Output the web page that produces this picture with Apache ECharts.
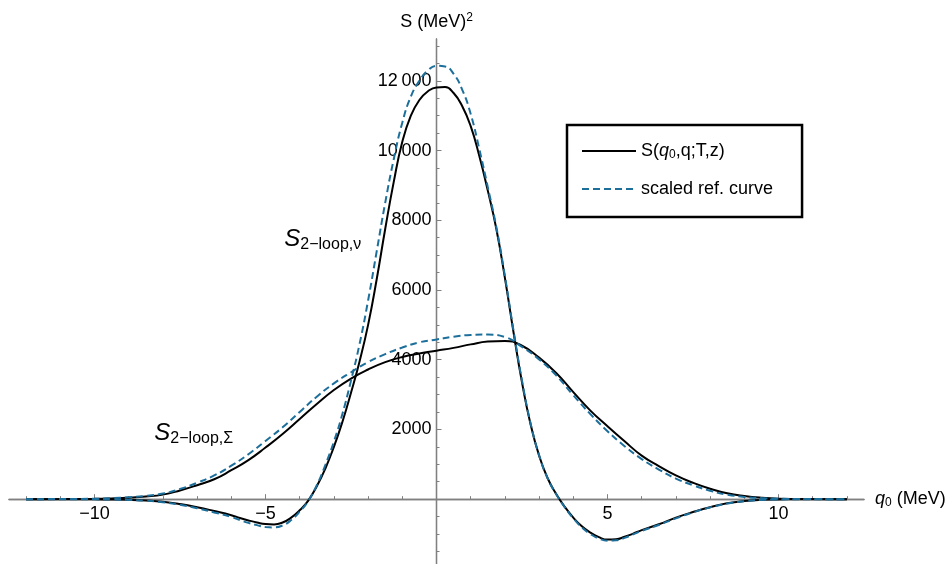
<!DOCTYPE html>
<html>
<head>
<meta charset="utf-8">
<script src="https://cdn.jsdelivr.net/npm/echarts@6/dist/echarts.min.js"></script>
<style>
html, body { margin: 0; padding: 0; background: #fff; }
#main { width: 951px; height: 564px; }
</style>
</head>
<body>
<div id="main"></div>
<script>
// q0 grid for the narrow (nu) curves
var qNu = [-12, -11, -10, -9.5, -9, -8.5, -8, -7.5, -7, -6.5,
  -6, -5.75, -5.5, -5.25, -5, -4.75, -4.5, -4.25, -4, -3.75,
  -3.5, -3.25, -3, -2.75, -2.5, -2.25, -2, -1.75, -1.5, -1.25,
  -1, -0.75, -0.5, -0.25, 0, 0.25, 0.5, 0.75, 1, 1.25,
  1.5, 1.75, 2, 2.25, 2.5, 2.75, 3, 3.25, 3.5, 3.75,
  4, 4.25, 4.5, 4.75, 5, 5.25, 5.5, 5.75, 6,
  6.5, 7, 7.5, 8, 8.5, 9, 9.5, 10, 11, 12];
// S_2-loop,nu : full result (solid) and scaled reference (dashed)
var nuFull = [0, 0, -5, -10, -20, -40, -75, -140, -230, -340,
  -460, -540, -610, -670, -715, -725, -670, -530, -320, -40,
  370, 880, 1500, 2220, 3050, 3950, 5000, 6300, 7750, 9100,
  10250, 11000, 11450, 11700, 11810, 11820, 11650, 11280, 10700, 9850,
  8850, 7750, 6350, 4800, 3350, 2150, 1250, 600, 150, -220,
  -530, -780, -960, -1090, -1160, -1150, -1080, -990, -890,
  -720, -530, -370, -230, -120, -55, -20, -8, 0, 0];
var nuRef = [0, 0, -5, -12, -22, -45, -90, -160, -260, -380,
  -510, -600, -680, -745, -800, -810, -755, -600, -360, -50,
  400, 980, 1650, 2450, 3400, 4450, 5700, 7100, 8500, 9750,
  10800, 11550, 12000, 12300, 12430, 12410, 12200, 11750, 11050, 10050,
  8950, 7800, 6400, 4850, 3400, 2180, 1260, 600, 140, -230,
  -550, -810, -1000, -1130, -1190, -1180, -1110, -1010, -910,
  -740, -550, -380, -235, -125, -58, -22, -8, 0, 0];

// q0 grid for the broad (Sigma) curves
var qSig = [-12, -11, -10, -9.5, -9, -8.5, -8, -7.5, -7, -6.5, -6, -5.5, -5, -4.5, -4, -3.5, -3,
  -2.5, -2, -1.5, -1, -0.5, 0, 0.5, 1, 1.5, 2, 2.5, 3, 3.5, 4, 4.5, 5, 5.5, 6, 6.5, 7, 7.5,
  8, 8.5, 9, 9.5, 10, 11, 12];
var sigFull = [0, 2, 10, 22, 42, 75, 130, 250, 400, 570, 830, 1120, 1480, 1870, 2300, 2730, 3130,
  3460, 3720, 3930, 4080, 4180, 4260, 4340, 4440, 4520, 4540, 4400, 4060, 3620, 3070, 2540, 2090, 1660,
  1250, 950, 680, 470, 300, 170, 90, 40, 15, 3, 0];
var sigRef = [0, 3, 12, 28, 55, 95, 160, 290, 470, 680, 960, 1290, 1670, 2060, 2500, 2940, 3320,
  3640, 3930, 4160, 4350, 4500, 4580, 4660, 4710, 4720, 4650, 4370, 4010, 3550, 2980, 2440, 1950, 1520,
  1150, 850, 590, 400, 240, 130, 65, 30, 12, 2, 0];

// ticks
var xMajor = [-10, -5, 5, 10];
var xLabels = [-10, -5, 5, 10];
var xMinor = [-12, -11, -9, -8, -7, -6, -4, -3, -2, -1, 1, 2, 3, 4, 6, 7, 8, 9, 11, 12];
var yMajor = [2000, 4000, 6000, 8000, 10000, 12000];
var yLabels = [2000, 4000, 6000, 8000, 10000, 12000];
var yMinor = [-1500, -1000, -500, 500, 1000, 1500, 2500, 3000, 3500, 4500, 5000, 5500,
  6500, 7000, 7500, 8500, 9000, 9500, 10500, 11000, 11500, 12500, 13000];

// curve labels, anchored in data coordinates
var notes = [
  { q: -4.45, s: 7460, text: '{s|S}{sub|2\u2212loop,\u03bd}' },
  { q: -8.25, s: 1880, text: '{s|S}{sub|2\u2212loop,\u03a3}' }
];

var FONT = 'Liberation Sans, Arial, sans-serif';
var AXIS = '#808080';
var BLUE = '#1d6f9b';
var NAME_FULL = 'S(q0,q;T,z)';
var NAME_REF = 'scaled ref. curve';
var GRID = { left: 9, right: 87, top: 39, bottom: 0 };
var W = 951, H = 564;

function zip(xs, ys) {
  return xs.map(function (x, i) { return [x, ys[i]]; });
}
function fmt(v) {
  var s = String(Math.abs(v));
  if (s.length > 4) s = s.slice(0, s.length - 3) + '\u2009' + s.slice(-3);
  return (v < 0 ? '\u2212' : '') + s;
}

var chart = echarts.init(document.getElementById('main'));

var lineBase = { type: 'line', smooth: 0.5, symbol: 'none', showSymbol: false, xAxisIndex: 0, yAxisIndex: 0 };
var tickStyle = { color: AXIS, width: 1 };
var lineStyleAxis = { onZero: false, lineStyle: { color: AXIS, width: 1.3 } };

chart.setOption({
  animation: false,
  backgroundColor: '#fff',
  textStyle: { fontFamily: FONT },
  grid: { left: GRID.left, right: GRID.right, top: GRID.top, bottom: GRID.bottom, containLabel: false, outerBoundsMode: 'none' },
  legend: {
    data: [NAME_FULL, NAME_REF],
    orient: 'vertical',
    left: 567,
    top: 125,
    padding: [16, 29, 18, 14],
    borderColor: '#000',
    borderWidth: 2.5,
    itemWidth: 54,
    itemHeight: 20,
    itemGap: 18,
    selectedMode: false,
    lineStyle: { width: 2 },
    itemStyle: { opacity: 0, borderWidth: 0 },
    textStyle: {
      fontSize: 18, color: '#000', lineHeight: 20, fontFamily: FONT,
      rich: {
        n: { fontSize: 18, lineHeight: 20, fontFamily: FONT, color: '#000' },
        i: { fontSize: 18, lineHeight: 20, fontStyle: 'italic', fontFamily: FONT, color: '#000' },
        sub: { fontSize: 12, lineHeight: 12, verticalAlign: 'bottom', fontFamily: FONT, color: '#000' }
      }
    },
    formatter: function (name) {
      if (name === NAME_FULL) return '{n|S(}{i|q}{sub|0}{n|,q;T,z)}';
      return '{n|' + name + '}';
    }
  },
  xAxis: [{
    type: 'value', min: -12.5, max: 12.5, position: 'bottom',
    name: '{i|q}{sub|0}{n| (MeV)}', nameLocation: 'end', nameGap: 11,
    nameTextStyle: {
      rich: {
        n: { fontSize: 18, lineHeight: 20, fontFamily: FONT, color: '#000' },
        i: { fontSize: 18, lineHeight: 20, fontStyle: 'italic', fontFamily: FONT, color: '#000' },
        sub: { fontSize: 12, lineHeight: 12, verticalAlign: 'bottom', fontFamily: FONT, color: '#000' }
      }
    },
    axisLine: lineStyleAxis,
    axisTick: { inside: true, length: 5, customValues: xMajor, lineStyle: tickStyle },
    axisLabel: { customValues: xLabels, formatter: fmt, margin: 6, fontSize: 18, color: '#000', fontFamily: FONT },
    splitLine: { show: false }
  }, {
    type: 'value', min: -12.5, max: 12.5, position: 'top',
    axisLine: lineStyleAxis,
    axisTick: { inside: false, length: 3, customValues: xMinor, lineStyle: tickStyle },
    axisLabel: { show: false },
    splitLine: { show: false }
  }],
  yAxis: [{
    type: 'value', min: -1860, max: 13200, position: 'left',
    name: '{n|S (MeV)}{sup|2}', nameLocation: 'end', nameGap: 7,
    nameTextStyle: {
      rich: {
        n: { fontSize: 18, lineHeight: 20, fontFamily: FONT, color: '#000' },
        sup: { fontSize: 12, lineHeight: 12, verticalAlign: 'top', fontFamily: FONT, color: '#000' }
      }
    },
    axisLine: lineStyleAxis,
    axisTick: { inside: true, length: 5, customValues: yMajor, lineStyle: tickStyle },
    axisLabel: { customValues: yLabels, formatter: fmt, margin: 5, fontSize: 18, color: '#000', fontFamily: FONT },
    splitLine: { show: false }
  }, {
    type: 'value', min: -1860, max: 13200, position: 'right',
    axisLine: lineStyleAxis,
    axisTick: { inside: false, length: 3, customValues: yMinor, lineStyle: tickStyle },
    axisLabel: { show: false },
    splitLine: { show: false }
  }],
  series: [
    Object.assign({}, lineBase, { name: NAME_FULL, data: zip(qNu, nuFull), color: '#000', lineStyle: { color: '#000', width: 2 }, z: 3 }),
    Object.assign({}, lineBase, { name: NAME_FULL, data: zip(qSig, sigFull), color: '#000', lineStyle: { color: '#000', width: 2 }, z: 3 }),
    Object.assign({}, lineBase, { name: NAME_REF, data: zip(qNu, nuRef), color: BLUE, lineStyle: { color: BLUE, width: 2, type: [7, 4] }, z: 4 }),
    Object.assign({}, lineBase, { name: NAME_REF, data: zip(qSig, sigRef), color: BLUE, lineStyle: { color: BLUE, width: 2, type: [7, 4] }, z: 4 })
  ]
});

// move the axes so they cross at the data origin
var x0 = chart.convertToPixel({ xAxisIndex: 0 }, 0);
var y0 = chart.convertToPixel({ yAxisIndex: 0 }, 0);
var gBottom = H - GRID.bottom, gRight = W - GRID.right;

chart.setOption({
  xAxis: [{ offset: y0 - gBottom }, { offset: GRID.top - y0 }],
  yAxis: [{ offset: GRID.left - x0 }, { offset: x0 - gRight }],
  graphic: notes.map(function (n) {
    var p = chart.convertToPixel({ gridIndex: 0 }, [n.q, n.s]);
    return {
      type: 'text', x: p[0], y: p[1], z: 10,
      style: {
        text: n.text, align: 'left', verticalAlign: 'middle',
        rich: {
          s: { fontSize: 24, lineHeight: 26, fontStyle: 'italic', fontFamily: FONT, fill: '#000' },
          sub: { fontSize: 16, lineHeight: 14, verticalAlign: 'bottom', fontFamily: FONT, fill: '#000' }
        }
      }
    };
  })
});
</script>
</body>
</html>
